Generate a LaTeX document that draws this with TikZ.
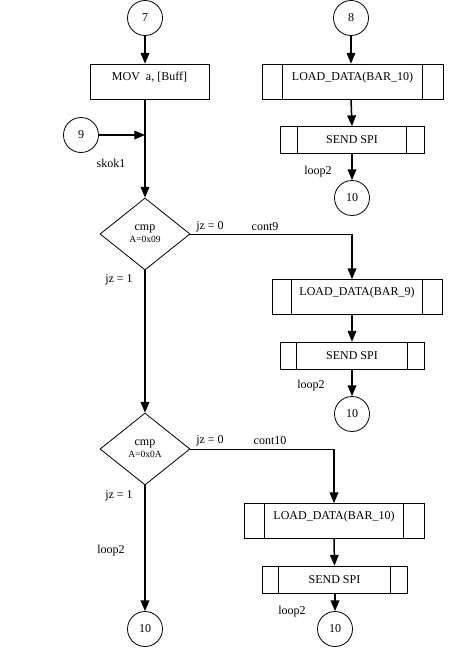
\documentclass[tikz,border=0pt]{standalone}
\usepackage{fontspec}
\setmainfont{Liberation Serif}
\usetikzlibrary{shapes,arrows}
\usetikzlibrary{shapes.geometric}
\usetikzlibrary{calc}

\tikzset{
  conn/.style={circle,draw,line width=0.8pt,minimum size=35pt,inner sep=0pt},
  instr/.style={rectangle,draw,line width=0.8pt,minimum width=#1,minimum height=35pt,
    inner sep=0pt,text height=16pt,text depth=19pt},
  sendbox/.style={rectangle,draw,line width=0.8pt,minimum width=#1,minimum height=27pt,inner sep=0pt},
  cmpbox/.style={diamond,draw,line width=0.8pt,aspect=1.25,minimum width=90pt,
    minimum height=72pt,inner sep=0pt,align=center},
  flow/.style={line width=1.5pt,-triangle 45},
  lbl/.style={inner sep=0pt}
}
\newcommand{\subbars}[2]{\draw [line width=0.8pt] ([xshift=#2]#1.north west) -- ([xshift=#2]#1.south west)
  ([xshift=-#2]#1.north east) -- ([xshift=-#2]#1.south east);}

\begin{document}
\begin{tikzpicture}[x=1pt,y=-1pt]
\fontsize{12}{14}\selectfont
\useasboundingbox (0,0) rectangle (453,648);

% left column
\node [conn] (c7) at (145,18) {7};
\node [instr=119pt] (mov) at (149.5,81.5) {MOV\ \ a, [Buff]};
\node [conn] (c9) at (81,135) {9};
\node [lbl] (skok) at (111,163) {skok1};
\node [cmpbox] (cmp9) at (145,234) {cmp\\[-2pt]{\fontsize{9.5}{11}\selectfont A=0x09}};
\node [lbl] (jz0a) at (210,227) {jz = 0};
\node [lbl] (cont9) at (265,227) {cont9};
\node [lbl] (jz1a) at (119,280) {jz = 1};
\node [cmpbox] (cmp10) at (145,449) {cmp\\[-2pt]{\fontsize{9.5}{11}\selectfont A=0x0A}};
\node [lbl] (jz0b) at (210,441) {jz = 0};
\node [lbl] (cont10) at (270,441) {cont10};
\node [lbl] (jz1b) at (119,496) {jz = 1};
\node [lbl] (loopd) at (111,551) {loop2};
\node [conn] (c10d) at (145,629) {10};

\coordinate (j9) at (c9 -| cmp9);
\draw [flow] (c7) -- (c7 |- mov.north);
\draw [flow] (c7 |- mov.south) -- (cmp9.north);
\draw [flow] (c9) -- (j9);
\draw [flow] (cmp9.south) -- (cmp10.north);
\draw [flow] (cmp10.south) -- (c10d);

% right column, top
\node [conn] (c8) at (351,18) {8};
\node [instr=181pt] (ld10a) at (352.5,81.5) {LOAD\_DATA(BAR\_10)};
\subbars{ld10a}{21pt}
\node [sendbox=144pt] (sp10a) at (352,140) {SEND SPI};
\subbars{sp10a}{18pt}
\node [lbl] (loopa) at (318,172) {loop2};
\node [conn] (c10a) at (352,198) {10};

\draw [flow] (c8) -- (c8 |- ld10a.north);
\draw [flow] (c8 |- ld10a.south) -- (sp10a.north);
\draw [flow] (sp10a) -- (c10a);

% right column, cont9
\coordinate (k9) at (352,234);
\node [instr=170pt] (ld9) at (357,297) {LOAD\_DATA(BAR\_9)};
\subbars{ld9}{20pt}
\node [sendbox=144pt] (sp9) at (352,355.5) {SEND SPI};
\subbars{sp9}{17pt}
\node [lbl] (loopb) at (311,386) {loop2};
\node [conn] (c10b) at (352,414) {10};

\draw [line width=0.8pt] (cmp9.east) -- (k9);
\draw [flow] (k9) -- (k9 |- ld9.north);
\draw [flow] (k9 |- ld9.south) -- (sp9.north);
\draw [flow] (sp9) -- (c10b);

% right column, cont10
\coordinate (k10) at (334,449);
\node [instr=180pt] (ld10b) at (334,521) {LOAD\_DATA(BAR\_10)};
\subbars{ld10b}{21pt}
\node [sendbox=145pt] (sp10b) at (334.5,579.5) {SEND SPI};
\subbars{sp10b}{17pt}
\node [lbl] (loopc) at (292,612) {loop2};
\node [conn] (c10c) at (335,629) {10};

\draw [line width=0.8pt] (cmp10.east) -- (k10);
\draw [flow] (k10) -- (k10 |- ld10b.north);
\draw [flow] (k10 |- ld10b.south) -- (sp10b.north);
\draw [flow] (sp10b.south -| c10c) -- (c10c);

\end{tikzpicture}
\end{document}
